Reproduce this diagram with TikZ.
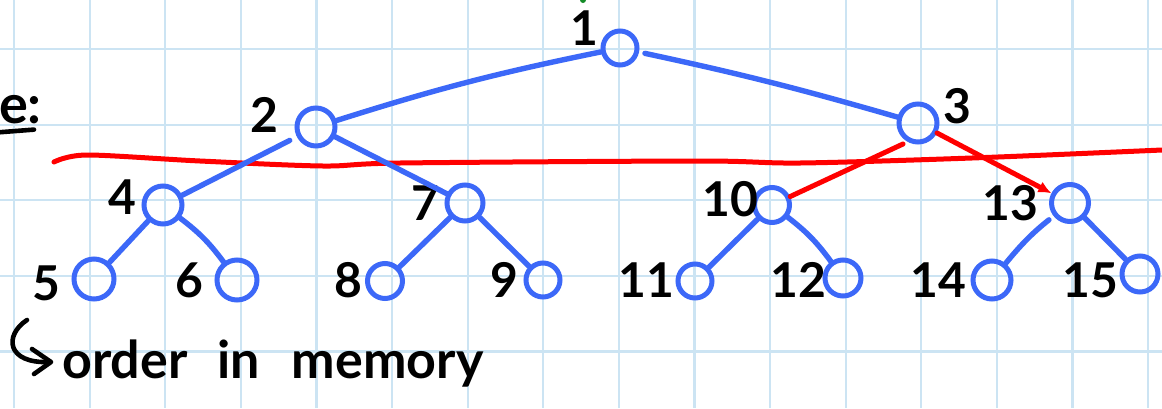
\documentclass[tikz,border=0pt]{standalone}
\usepackage{fontspec}
\setmainfont{Lato}
\usetikzlibrary{arrows.meta,calc}
\definecolor{gridc}{RGB}{204,228,243}
\definecolor{treeblue}{RGB}{60,104,248}
\definecolor{inkred}{RGB}{255,0,0}
\definecolor{inkgreen}{RGB}{20,140,40}
\tikzset{
  vtx/.style={circle, draw=treeblue, line width=5pt, inner sep=0pt, minimum size=#1},
  vtx/.default=36pt,
  lbl/.style={inner sep=0pt, font=\fontsize{48}{52}\selectfont\bfseries, text=black},
  edge/.style={draw=treeblue, line width=5.4pt, line cap=round},
  redline/.style={draw=inkred, line width=5pt, line cap=round},
  ink/.style={draw=black, line width=4.6pt, line cap=round, line join=round},
  gridline/.style={draw=gridc, line width=2.2pt}
}
\begin{document}
\begin{tikzpicture}[x=1pt,y=-1pt]
\useasboundingbox (0,0) rectangle (1162,408);
\clip (0,0) rectangle (1162,408);
\fill[white] (0,0) rectangle (1162,408);
\foreach \i in {0,...,15} \draw[gridline] ({14+75.6*\i},0) -- ({14+75.6*\i},408);
\foreach \j in {0,...,4} \draw[gridline] (0,{49+75.6*\j}) -- (1162,{49+75.6*\j});

% red cut line
\draw[redline] plot[smooth, tension=0.5] coordinates {(54,162) (87,155) (200,161) (323,166) (400,163) (700,161) (800,163) (972,158) (1162,150)};

% vertices
\node[vtx=34pt] (n1) at (620,48) {};
\node[vtx=38pt] (n2) at (316,127) {};
\node[vtx=38pt] (n3) at (918,123) {};
\node[vtx=38pt] (n4) at (163,205) {};
\node[vtx=36pt] (n7) at (465,203) {};
\node[vtx=35pt] (n10) at (772,205) {};
\node[vtx=37pt] (n13) at (1070,203) {};
\node[vtx=40pt] (n5) at (94,279) {};
\node[vtx=40pt] (n6) at (237,280) {};
\node[vtx=35pt] (n8) at (385,281) {};
\node[vtx=34pt] (n9) at (543,280) {};
\node[vtx=34pt] (n11) at (695,281) {};
\node[vtx=36pt] (n12) at (843,278) {};
\node[vtx=38pt] (n14) at (992,280) {};
\node[vtx=36pt] (n15) at (1140,274) {};

% labels
\node[lbl] (l1) at (584,28) {1};
\node[lbl] (l2) at (264,115) {2};
\node[lbl] (l3) at (957,106) {3};
\node[lbl] (l4) at (122,197) {4};
\node[lbl] (l7) at (425,203) {7};
\node[lbl] (l10) at (730,199) {10};
\node[lbl] (l13) at (1010,203) {13};
\node[lbl] (l5) at (46,283) {5};
\node[lbl] (l6) at (189,280) {6};
\node[lbl] (l8) at (348,280) {8};
\node[lbl] (l9) at (504,280) {9};
\node[lbl] (l11) at (646,280) {11};
\node[lbl] (l12) at (798,280) {12};
\node[lbl] (l14) at (938,280) {14};
\node[lbl] (l15) at (1090,280) {15};

% blue edges
\draw[edge] (n1) to[bend right=3] (n2);
\draw[edge, shorten <=6pt] (n1) to[bend left=2] (n3);
\draw[edge, shorten <=8pt] (n2) -- (n4);
\draw[edge] (n2) -- (n7);
\draw[edge] (n4) -- (n5);
\draw[edge] (n4) to[bend left=8] (n6);
\draw[edge] (n7) -- (n8);
\draw[edge] (n7) -- (n9);
\draw[edge] (n10) -- (n11);
\draw[edge] (n10) to[bend left=8] (n12);
\draw[edge, shorten <=6pt] (n13) to[bend right=6] (n14);
\draw[edge] (n13) -- (n15);

% red edges
\coordinate (r3) at (903,144);
\draw[redline] (n10) -- (r3);
\draw[redline, -{Latex[length=13pt,width=12pt]}] (n3) -- (n13);

% heading fragment
\node[anchor=base east, inner sep=0pt, font=\fontsize{54}{58}\selectfont\bfseries] (le) at (42,123) {e:};
\draw[ink] ($(le.south west)+(-4,9)$) -- ($(le.south east)+(-8,6)$);

% note
\node[anchor=base west, inner sep=0pt, font=\fontsize{52}{56}\selectfont\bfseries] (mem) at (62,378) {order\hspace{30pt}in\hspace{32pt}memory};
\coordinate (hk) at (27,320);
\draw[ink] (hk) .. controls (4,335) and (6,364) .. (50,362);
\draw[ink] (32,349) -- (51,362) -- (34,374);

\fill[inkgreen] (583,0) circle (3);
\end{tikzpicture}
\end{document}
